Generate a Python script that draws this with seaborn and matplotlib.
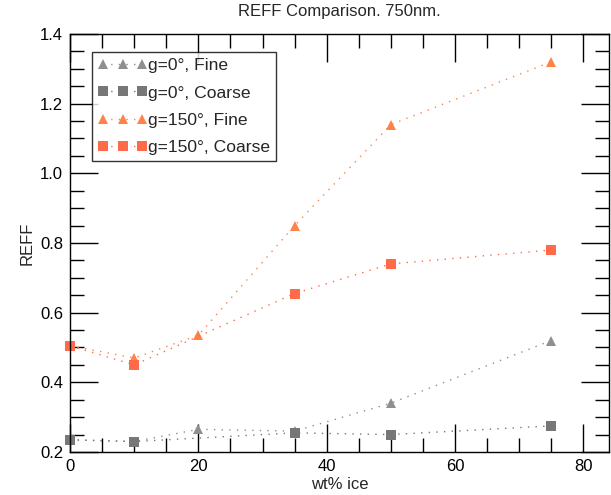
import matplotlib
matplotlib.use("Agg")
import matplotlib.pyplot as plt
from matplotlib.lines import Line2D
import seaborn as sns
from matplotlib.ticker import MultipleLocator

# Data
x_fine = [0, 10, 20, 35, 50, 75]
x_coarse = [0, 10, 35, 50, 75]
g0_fine = [0.235, 0.23, 0.265, 0.26, 0.34, 0.52]
g0_coarse = [0.235, 0.23, 0.255, 0.25, 0.275]
g150_fine = [0.505, 0.47, 0.535, 0.85, 1.14, 1.32]
g150_coarse = [0.505, 0.45, 0.655, 0.74, 0.78]
labels = ["g=0°, Fine", "g=0°, Coarse", "g=150°, Fine", "g=150°, Coarse"]

sns.set_style("ticks")
plt.rcParams['font.family'] = ['Liberation Sans', 'DejaVu Sans']

fig = plt.figure(figsize=(6.11, 4.95), dpi=100)
ax = fig.add_axes([70/611, 1-452/495, (609-70)/611, (452-34)/495])

dot = (0, (1, 4.5))
series = [
    (x_fine, g0_fine, '^', '#8f8f8f', labels[0]),
    (x_coarse, g0_coarse, 's', '#777777', labels[1]),
    (x_fine, g150_fine, '^', '#ff8248', labels[2]),
    (x_coarse, g150_coarse, 's', '#ff6a48', labels[3]),
]
handles = []
for xs, ys, m, c, lab in series:
    sns.lineplot(x=xs, y=ys, ax=ax, marker=m, color=c, linestyle=dot,
                 linewidth=1.0, markersize=7.5, markeredgewidth=0,
                 clip_on=False, legend=False)
    handles.append(Line2D([], [], marker=m, color=c, linestyle=dot,
                          linewidth=1.0, markersize=7.5, markeredgewidth=0))

ax.set_xlim(0, 84)
ax.set_ylim(0.2, 1.4)
ax.xaxis.set_major_locator(MultipleLocator(20))
ax.xaxis.set_minor_locator(MultipleLocator(5))
ax.yaxis.set_major_locator(MultipleLocator(0.2))
ax.yaxis.set_minor_locator(MultipleLocator(0.05))
ax.yaxis.set_major_formatter(matplotlib.ticker.FormatStrFormatter('%.1f'))
ax.tick_params(which='both', direction='in', top=True, right=True,
               colors='black', labelsize=12, width=1)
ax.tick_params(which='major', length=20, pad=5)
ax.tick_params(which='minor', length=10)
for s in ax.spines.values():
    s.set_color('black')
    s.set_linewidth(1)

ax.set_xlabel("wt% ice", fontsize=12, labelpad=2)
ax.set_ylabel("REFF", fontsize=12, labelpad=4)
ax.set_title("REFF Comparison. 750nm.", fontsize=12, pad=13)

leg = ax.legend(handles, labels, loc='upper left', bbox_to_anchor=(22/539, 1-18/418),
                numpoints=3, handlelength=2.8, handletextpad=0.05, borderpad=0.35,
                labelspacing=0.68, fontsize=12.6, frameon=True, fancybox=False,
                borderaxespad=0)
leg.get_frame().set_edgecolor('black')
leg.get_frame().set_linewidth(1)

fig.savefig("out.png", dpi=100)
